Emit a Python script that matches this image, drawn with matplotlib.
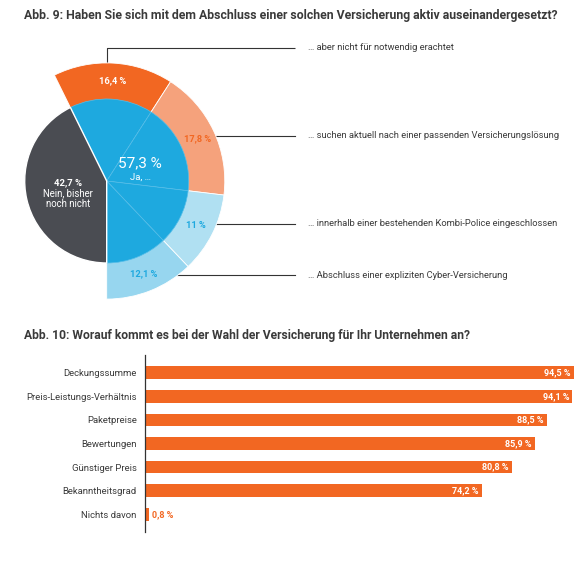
import numpy as np
import matplotlib
matplotlib.use("Agg")
import matplotlib.pyplot as plt

plt.rcParams['font.family'] = ['Roboto', 'DejaVu Sans']

# ---------------- data ----------------
title9 = "Abb. 9: Haben Sie sich mit dem Abschluss einer solchen Versicherung aktiv auseinandergesetzt?"
title10 = "Abb. 10: Worauf kommt es bei der Wahl der Versicherung für Ihr Unternehmen an?"

inner_labels = ["Ja, …", "Nein, bisher\nnoch nicht"]
inner_values = [57.3, 42.7]

outer_labels = ["… aber nicht für notwendig erachtet",
                "… suchen aktuell nach einer passenden Versicherungslösung",
                "… innerhalb einer bestehenden Kombi-Police eingeschlossen",
                "… Abschluss einer expliziten Cyber-Versicherung"]
outer_values = [16.4, 17.8, 11.0, 12.1]
outer_texts = ["16,4 %", "17,8 %", "11 %", "12,1 %"]

bar_categories = ["Deckungssumme", "Preis-Leistungs-Verhältnis", "Paketpreise",
                  "Bewertungen", "Günstiger Preis", "Bekanntheitsgrad", "Nichts davon"]
bar_values = [94.5, 94.1, 88.5, 85.9, 80.8, 74.2, 0.8]

# ---------------- style ----------------
W, H = 578, 566
DPI = 100
ORANGE = "#F26722"
LORANGE = "#F5A27C"
BLUE = "#1EA9DF"
LBLUE1 = "#B0E0F2"
LBLUE2 = "#97D6EF"
DARK = "#4A4C52"
TXT = "#3A3A3A"

fig = plt.figure(figsize=(W / DPI, H / DPI), dpi=DPI)

# overlay axes in pixel coordinates (for titles and leader lines)
ov = fig.add_axes([0, 0, 1, 1])
ov.set_xlim(0, W)
ov.set_ylim(H, 0)
ov.axis("off")

ov.text(24, 15, title9, fontsize=8.8, fontweight="bold", color=TXT, va="center", ha="left")
ov.text(24, 336, title10, fontsize=8.7, fontweight="bold", color=TXT, va="center", ha="left")

# ---------------- pie ----------------
cx, cy = 106.7, 181.0   # pixel center (from top)
r_in = 82.0             # px
scale_out = 1.44        # outer radius / inner radius
half = 1.5
pax = fig.add_axes([(cx - half * r_in) / W, (H - cy - half * r_in) / H,
                    2 * half * r_in / W, 2 * half * r_in / H])
pax.set_xlim(-half, half)
pax.set_ylim(-half, half)
pax.axis("off")

# blue starts where dark ends: dark spans from 270 (bottom) clockwise by its share
start = 270 - inner_values[1] / 100 * 360

# outer ring (only over the "Ja" share)
ov_vals = outer_values + [inner_values[1]]
ov_cols = [ORANGE, LORANGE, LBLUE1, LBLUE2, "none"]
wedges, _ = pax.pie(ov_vals, radius=scale_out, colors=ov_cols, startangle=start,
                    counterclock=False,
                    wedgeprops=dict(width=scale_out - 0.95, edgecolor="white", linewidth=0.6))
wedges[-1].set_edgecolor("none")

# inner blue subdivided (faint lines), plus dark
in_vals = outer_values + [inner_values[1]]
in_cols = [BLUE] * 4 + [DARK]
iw, _ = pax.pie(in_vals, radius=1.0, colors=in_cols, startangle=start, counterclock=False,
                wedgeprops=dict(edgecolor="#55BDE8", linewidth=0.5))
iw[-1].set_edgecolor("white")
iw[-1].set_linewidth(1.0)
pax.set_xlim(-half, half)
pax.set_ylim(-half, half)

# outer labels inside segments
txt_cols = ["white", ORANGE, BLUE, BLUE]
cum = 0
for v, t, c in zip(outer_values, outer_texts, txt_cols):
    mid = np.deg2rad(start - (cum + v / 2) / 100 * 360)
    cum += v
    pax.text(1.22 * np.cos(mid), 1.22 * np.sin(mid), t, ha="center", va="center",
             fontsize=6.7, fontweight="bold", color=c)

# centre labels
pax.text(0.41, 0.22, "57,3 %", ha="center", va="center", fontsize=11, color="white")
pax.text(0.41, 0.05, inner_labels[0], ha="center", va="center", fontsize=6.8, color="white")
pax.text(-0.47, -0.02, "42,7 %", ha="center", va="center", fontsize=6.8,
         fontweight="bold", color="white")
pax.text(-0.47, -0.22, inner_labels[1], ha="center", va="center", fontsize=6.9,
         color="white", linespacing=1.1)

# leader lines & labels
R_out = r_in * scale_out
label_x = 308
line_end = 295
ys = [48, 136, 224, 275]
for i, (y, lab) in enumerate(zip(ys, outer_labels)):
    if i == 0:
        ov.plot([cx, cx, line_end], [cy - R_out + 1, y, y], color="#333333", lw=0.8,
                solid_capstyle="butt")
    else:
        dy = y - cy
        x0 = cx + np.sqrt(R_out ** 2 - dy ** 2) - 1
        ov.plot([x0, line_end], [y, y], color="#333333", lw=0.8)
    ov.text(label_x, y, lab, fontsize=6.75, color=TXT, va="center", ha="left")

# ---------------- bar chart ----------------
x0px, x1px = 145, 574
top_px, bot_px = 355, 532
bax = fig.add_axes([x0px / W, (H - bot_px) / H, (x1px - x0px) / W, (bot_px - top_px) / H])
n = len(bar_values)
ypos = np.arange(n)
bax.barh(ypos, bar_values, height=0.54, color=ORANGE)
bax.set_xlim(0, max(bar_values))
bax.set_ylim(n - 1 + 0.75, -0.75)
for s in ["top", "right", "bottom"]:
    bax.spines[s].set_visible(False)
bax.spines["left"].set_color("#333333")
bax.spines["left"].set_linewidth(0.9)
bax.set_xticks([])
bax.set_yticks(ypos)
bax.set_yticklabels(bar_categories, fontsize=6.8, color=TXT)
bax.tick_params(axis="y", length=0, pad=6)
for yv, v in zip(ypos, bar_values):
    lab = f"{v:.1f}".replace(".", ",") + " %"
    if v > 10:
        bax.text(v - 0.7, yv, lab, ha="right", va="center", fontsize=6.5,
                 fontweight="bold", color="white")
    else:
        bax.text(v + 0.7, yv, lab, ha="left", va="center", fontsize=6.5,
                 fontweight="bold", color=ORANGE)

fig.savefig("out.png", dpi=DPI, facecolor="white")
